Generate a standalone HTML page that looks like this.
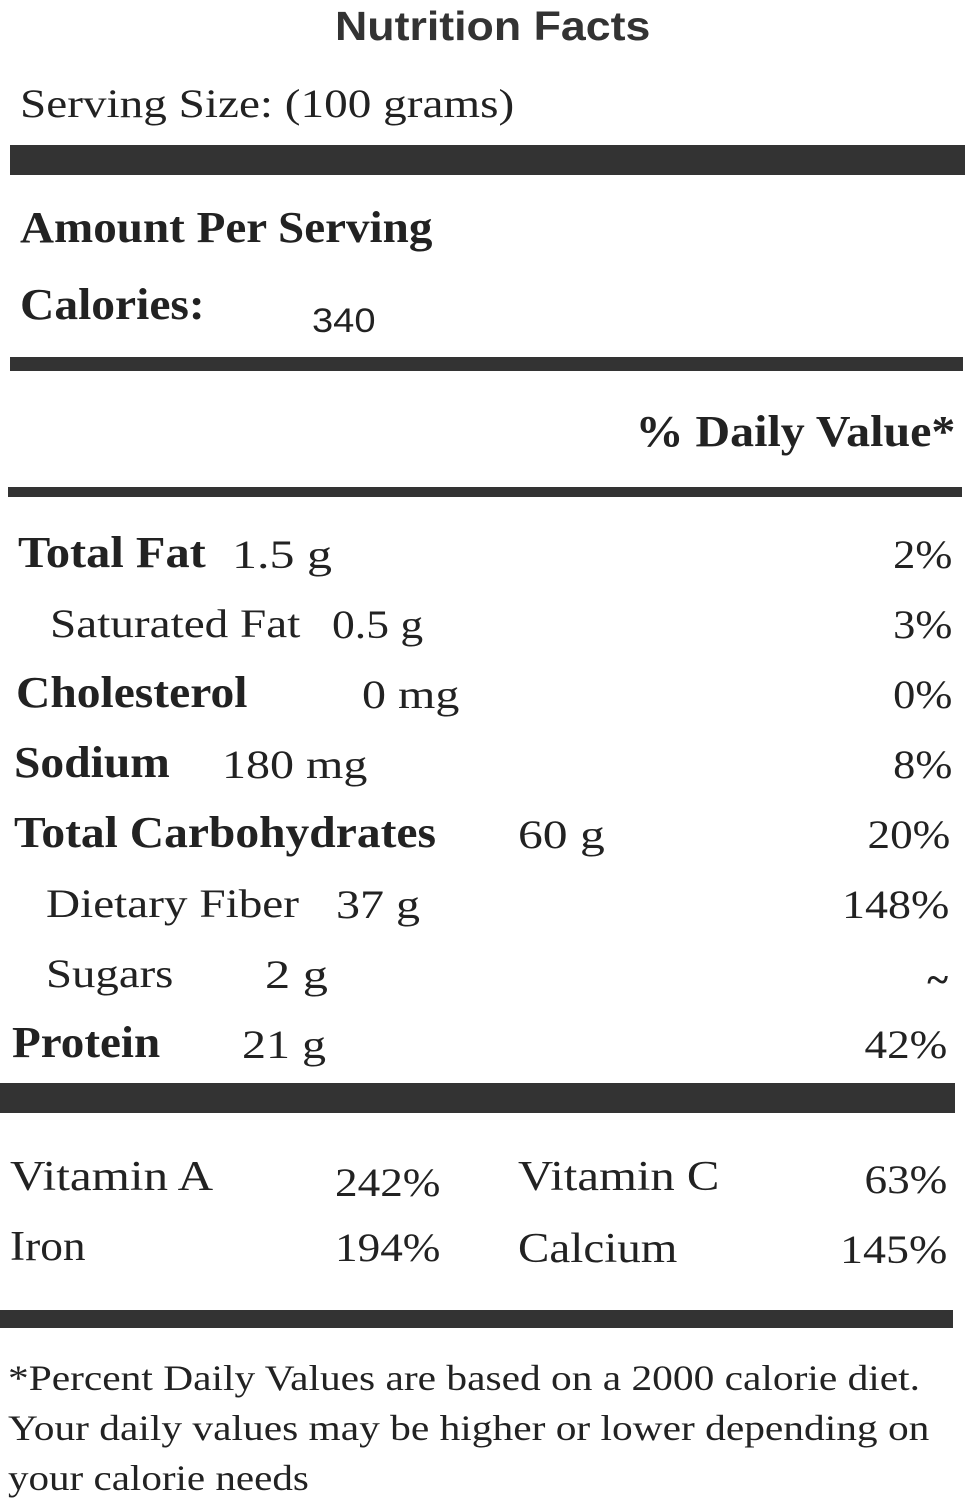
<!DOCTYPE html>
<html><head><meta charset="utf-8"><style>
html,body{margin:0;padding:0;background:#fff;width:975px;height:1500px;overflow:hidden;position:relative}
div.t{position:absolute;white-space:nowrap;line-height:1;color:#222;font-family:"Liberation Serif",serif;transform-origin:left top}
.b{font-weight:bold}
div.r{text-align:right;transform-origin:right top}
.bar{position:absolute;background:#333}
</style></head><body>
<div class="t b" style="left:335px;top:6px;font-family:'Liberation Sans',sans-serif;font-size:41px;color:#333;transform:scaleX(1.09)">Nutrition Facts</div>
<div class="t" style="left:20px;top:84px;font-size:40px;transform:scaleX(1.18)">Serving Size: (100 grams)</div>
<div class="bar" style="left:10px;top:145px;width:955px;height:30px"></div>
<div class="t b" style="left:20px;top:206px;font-size:44px;transform:scaleX(1.07)">Amount Per Serving</div>
<div class="t b" style="left:20px;top:283px;font-size:44px;transform:scaleX(1.08)">Calories:</div>
<div class="t" style="left:312px;top:304px;font-size:34px;font-family:'Liberation Sans',sans-serif;transform:scaleX(1.12)">340</div>
<div class="bar" style="left:10px;top:357px;width:953px;height:14px"></div>
<div class="t b r" style="right:20px;top:410px;font-size:44px;transform:scaleX(1.09)">% Daily Value*</div>
<div class="bar" style="left:8px;top:487px;width:954px;height:10px"></div>

<div class="t b" style="left:18px;top:531px;font-size:44px;transform:scaleX(1.1)">Total Fat</div>
<div class="t" style="left:232px;top:535px;font-size:40px;transform:scaleX(1.25)">1.5 g</div>
<div class="t r" style="right:23px;top:535px;font-size:40px;transform:scaleX(1.11)">2%</div>

<div class="t" style="left:50px;top:604px;font-size:40px;transform:scaleX(1.18)">Saturated Fat</div>
<div class="t" style="left:332px;top:605px;font-size:40px;transform:scaleX(1.14)">0.5 g</div>
<div class="t r" style="right:23px;top:605px;font-size:40px;transform:scaleX(1.11)">3%</div>

<div class="t b" style="left:16px;top:671px;font-size:44px;transform:scaleX(1.08)">Cholesterol</div>
<div class="t" style="left:362px;top:675px;font-size:40px;transform:scaleX(1.2)">0 mg</div>
<div class="t r" style="right:23px;top:675px;font-size:40px;transform:scaleX(1.11)">0%</div>

<div class="t b" style="left:14px;top:741px;font-size:44px;transform:scaleX(1.08)">Sodium</div>
<div class="t" style="left:222px;top:745px;font-size:40px;transform:scaleX(1.2)">180 mg</div>
<div class="t r" style="right:23px;top:745px;font-size:40px;transform:scaleX(1.11)">8%</div>

<div class="t b" style="left:14px;top:811px;font-size:44px;transform:scaleX(1.08)">Total Carbohydrates</div>
<div class="t" style="left:518px;top:815px;font-size:40px;transform:scaleX(1.24)">60 g</div>
<div class="t r" style="right:25px;top:815px;font-size:40px;transform:scaleX(1.13)">20%</div>

<div class="t" style="left:46px;top:884px;font-size:40px;transform:scaleX(1.18)">Dietary Fiber</div>
<div class="t" style="left:336px;top:885px;font-size:40px;transform:scaleX(1.2)">37 g</div>
<div class="t r" style="right:26px;top:885px;font-size:40px;transform:scaleX(1.15)">148%</div>

<div class="t" style="left:46px;top:954px;font-size:40px;transform:scaleX(1.17)">Sugars</div>
<div class="t" style="left:265px;top:955px;font-size:40px;transform:scaleX(1.26)">2 g</div>
<div class="t r b" style="right:27px;top:960px;font-size:40px">~</div>

<div class="t b" style="left:12px;top:1021px;font-size:44px;transform:scaleX(1.07)">Protein</div>
<div class="t" style="left:242px;top:1025px;font-size:40px;transform:scaleX(1.2)">21 g</div>
<div class="t r" style="right:28px;top:1025px;font-size:40px;transform:scaleX(1.13)">42%</div>

<div class="bar" style="left:0px;top:1083px;width:955px;height:30px"></div>

<div class="t" style="left:10px;top:1156px;font-size:42px;transform:scaleX(1.17)">Vitamin A</div>
<div class="t" style="left:335px;top:1163px;font-size:40px;transform:scaleX(1.13)">242%</div>
<div class="t" style="left:518px;top:1156px;font-size:42px;transform:scaleX(1.16)">Vitamin C</div>
<div class="t r" style="right:28px;top:1160px;font-size:40px;transform:scaleX(1.13)">63%</div>

<div class="t" style="left:10px;top:1226px;font-size:42px;transform:scaleX(1.08)">Iron</div>
<div class="t" style="left:335px;top:1228px;font-size:40px;transform:scaleX(1.13)">194%</div>
<div class="t" style="left:518px;top:1228px;font-size:42px;transform:scaleX(1.12)">Calcium</div>
<div class="t r" style="right:28px;top:1230px;font-size:40px;transform:scaleX(1.15)">145%</div>

<div class="bar" style="left:0px;top:1310px;width:953px;height:18px"></div>

<div class="t" style="left:8px;top:1360px;font-size:36px;transform:scaleX(1.15)">*Percent Daily Values are based on a 2000 calorie diet.</div>
<div class="t" style="left:8px;top:1410px;font-size:36px;transform:scaleX(1.15)">Your daily values may be higher or lower depending on</div>
<div class="t" style="left:8px;top:1460px;font-size:36px;transform:scaleX(1.14)">your calorie needs</div>
</body></html>
